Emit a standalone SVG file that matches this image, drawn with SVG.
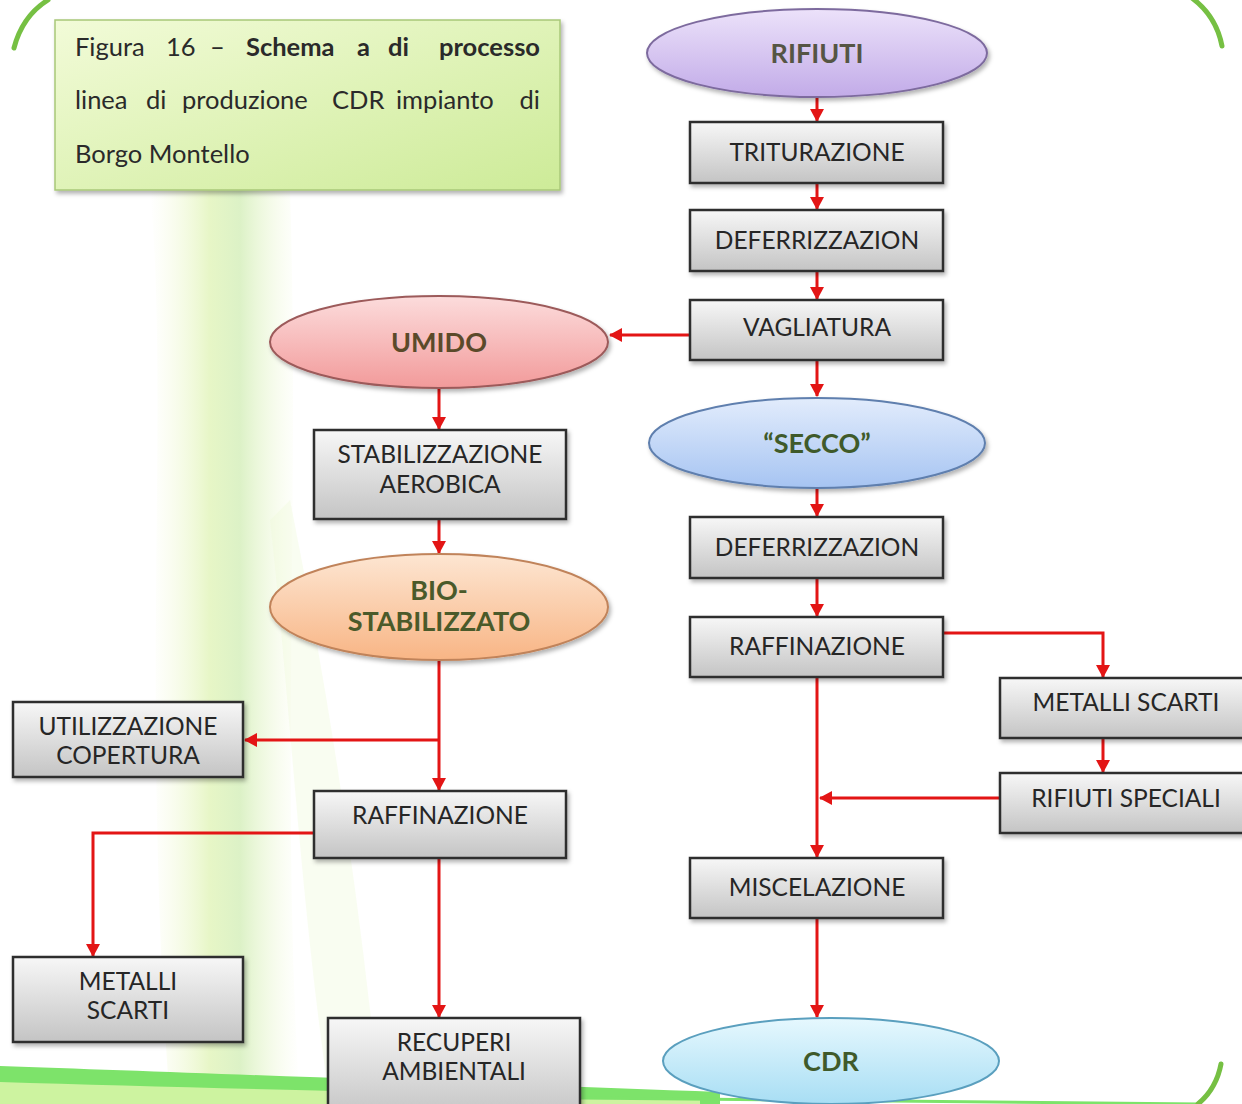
<svg xmlns="http://www.w3.org/2000/svg" width="1242" height="1104" viewBox="0 0 1242 1104">
<defs>
<style>
.box{fill:url(#gBox);stroke:#2e2e2e;stroke-width:2.5}
.lbl{font-family:Lato,"Liberation Sans",sans-serif;font-size:24.5px;fill:#262626;text-anchor:middle}
.elbl{font-family:Lato,"Liberation Sans",sans-serif;font-size:27px;font-weight:bold;text-anchor:middle}
.cap{font-family:Lato,"Liberation Sans",sans-serif;font-size:25.5px;fill:#2a2a2a}
.conn{fill:none;stroke:#e31515;stroke-width:3;marker-end:url(#ah)}
.deco{fill:none;stroke:#76c043;stroke-width:5;stroke-linecap:round}
</style>
<linearGradient id="gBox" x1="0" y1="0" x2="0" y2="1">
<stop offset="0" stop-color="#f7f7f7"/><stop offset="1" stop-color="#c4c4c4"/>
</linearGradient>
<linearGradient id="gCap" x1="0" y1="0" x2="1" y2="1">
<stop offset="0" stop-color="#f2fbd8"/><stop offset="1" stop-color="#cdeb98"/>
</linearGradient>
<linearGradient id="gRif" x1="0" y1="0" x2="0" y2="1">
<stop offset="0" stop-color="#ece2fa"/><stop offset="1" stop-color="#c2abe8"/>
</linearGradient>
<linearGradient id="gUmi" x1="0" y1="0" x2="0" y2="1">
<stop offset="0" stop-color="#fcdcdc"/><stop offset="1" stop-color="#f29a9a"/>
</linearGradient>
<linearGradient id="gSec" x1="0" y1="0" x2="0" y2="1">
<stop offset="0" stop-color="#e2ecfc"/><stop offset="1" stop-color="#a6c4f2"/>
</linearGradient>
<linearGradient id="gBio" x1="0" y1="0" x2="0" y2="1">
<stop offset="0" stop-color="#fde6d2"/><stop offset="1" stop-color="#f8b585"/>
</linearGradient>
<linearGradient id="gCdr" x1="0" y1="0" x2="0" y2="1">
<stop offset="0" stop-color="#e6f8fe"/><stop offset="1" stop-color="#a8def4"/>
</linearGradient>
<linearGradient id="gSwoosh" x1="0" y1="0" x2="1" y2="0">
<stop offset="0" stop-color="#f4fad8" stop-opacity="0"/><stop offset="0.4" stop-color="#e4f5c0"/><stop offset="0.6" stop-color="#d8f0c0"/><stop offset="1" stop-color="#f4fad8" stop-opacity="0"/>
</linearGradient>
<filter id="shd" x="-10%" y="-10%" width="130%" height="140%">
<feDropShadow dx="2" dy="3" stdDeviation="2" flood-color="#000" flood-opacity="0.3"/>
</filter>
<marker id="ah" markerWidth="14" markerHeight="14" refX="12" refY="7" orient="auto" markerUnits="userSpaceOnUse">
<path d="M0,0 L13,7 L0,14 Z" fill="#e31515"/>
</marker>
</defs>

<rect width="1242" height="1104" fill="#ffffff"/>

<g id="background">
<path d="M150,190 C170,400 140,700 170,1104 L300,1104 C280,800 300,500 290,190 Z" fill="url(#gSwoosh)" opacity="0.9"/>
<path d="M290,500 C330,700 360,900 380,1104 L330,1104 C300,900 290,700 270,520 Z" fill="#eef8d8" opacity="0.35"/>
<path d="M0,1066 C200,1073 500,1084 720,1092 L720,1104 L0,1104 Z" fill="#7de36a"/>
<path d="M0,1082 C200,1088 450,1094 700,1100 L700,1104 L0,1104 Z" fill="#cdf3a0"/>
<path d="M580,1098 C800,1100 1000,1102 1200,1104" fill="none" stroke="#7de36a" stroke-width="3"/>
<path class="deco" d="M14,48 C20,25 32,10 48,0"/>
<path class="deco" d="M1222,46 C1218,25 1208,10 1192,-2"/>
<path class="deco" d="M1221,1064 C1218,1080 1210,1094 1198,1104"/>
</g>

<g id="caption" filter="url(#shd)">
<rect x="55" y="20" width="505" height="170" fill="url(#gCap)" stroke="#a8c878" stroke-width="1.5"/>
</g>
<g id="caption-text" class="cap">
<text y="56"><tspan x="75">Figura</tspan><tspan x="166">16</tspan><tspan x="210">–</tspan><tspan x="246" font-weight="bold">Schema</tspan><tspan x="357" font-weight="bold">a</tspan><tspan x="388" font-weight="bold">di</tspan><tspan x="540" text-anchor="end" font-weight="bold">processo</tspan></text>
<text y="109"><tspan x="75">linea</tspan><tspan x="146">di</tspan><tspan x="182">produzione</tspan><tspan x="332">CDR</tspan><tspan x="396">impianto</tspan><tspan x="540" text-anchor="end">di</tspan></text>
<text y="163"><tspan x="75">Borgo Montello</tspan></text>
</g>

<g id="connectors">
<path class="conn" d="M817,97 V121"/>
<path class="conn" d="M817,183 V209"/>
<path class="conn" d="M817,271 V299"/>
<path class="conn" d="M690,335 H610"/>
<path class="conn" d="M817,360 V396"/>
<path class="conn" d="M439,388 V429"/>
<path class="conn" d="M439,519 V553"/>
<path class="conn" d="M817,487 V516"/>
<path class="conn" d="M817,578 V616"/>
<path class="conn" d="M943,633 H1103 V677"/>
<path class="conn" d="M1103,738 V772"/>
<path class="conn" d="M1000,798 H820"/>
<path class="conn" d="M817,677 V857"/>
<path class="conn" d="M817,918 V1017"/>
<path class="conn" d="M439,660 V790"/>
<path class="conn" d="M439,740 H245"/>
<path class="conn" d="M314,833 H93 V956"/>
<path class="conn" d="M439,858 V1017"/>
</g>

<g id="n-rifiuti"><ellipse cx="817" cy="53" rx="170" ry="44" fill="url(#gRif)" stroke="#7d6b9e" stroke-width="2" filter="url(#shd)"/><text class="elbl" x="817" y="63" fill="#555544">RIFIUTI</text></g>
<g id="n-triturazione"><rect class="box" x="690" y="122" width="253" height="61" filter="url(#shd)"/><text class="lbl" x="817" y="161">TRITURAZIONE</text></g>
<g id="n-deferr1"><rect class="box" x="690" y="210" width="253" height="61" filter="url(#shd)"/><text class="lbl" x="817" y="249">DEFERRIZZAZION</text></g>
<g id="n-vagliatura"><rect class="box" x="690" y="300" width="253" height="60" filter="url(#shd)"/><text class="lbl" x="817" y="336">VAGLIATURA</text></g>
<g id="n-umido"><ellipse cx="439" cy="342" rx="169" ry="46" fill="url(#gUmi)" stroke="#9c5a5a" stroke-width="2" filter="url(#shd)"/><text class="elbl" x="439" y="352" fill="#5b4a2a">UMIDO</text></g>
<g id="n-secco"><ellipse cx="817" cy="443" rx="168" ry="45" fill="url(#gSec)" stroke="#5f7fae" stroke-width="2" filter="url(#shd)"/><text class="elbl" x="817" y="453" fill="#3f5a2a">“SECCO”</text></g>
<g id="n-stabilizzazione"><rect class="box" x="314" y="430" width="252" height="89" filter="url(#shd)"/><text class="lbl" x="440" y="463">STABILIZZAZIONE</text><text class="lbl" x="440" y="493">AEROBICA</text></g>
<g id="n-bio"><ellipse cx="439" cy="607" rx="169" ry="53" fill="url(#gBio)" stroke="#c0835a" stroke-width="2" filter="url(#shd)"/><text class="elbl" x="439" y="600" fill="#4a5a2a" font-size="25">BIO-</text><text class="elbl" x="439" y="631" fill="#4a5a2a" font-size="25">STABILIZZATO</text></g>
<g id="n-deferr2"><rect class="box" x="690" y="517" width="253" height="61" filter="url(#shd)"/><text class="lbl" x="817" y="556">DEFERRIZZAZION</text></g>
<g id="n-raff-r"><rect class="box" x="690" y="617" width="253" height="60" filter="url(#shd)"/><text class="lbl" x="817" y="655">RAFFINAZIONE</text></g>
<g id="n-metalli-r"><rect class="box" x="1000" y="678" width="252" height="60" filter="url(#shd)"/><text class="lbl" x="1126" y="711">METALLI SCARTI</text></g>
<g id="n-rifiuti-speciali"><rect class="box" x="1000" y="773" width="252" height="60" filter="url(#shd)"/><text class="lbl" x="1126" y="807">RIFIUTI SPECIALI</text></g>
<g id="n-miscelazione"><rect class="box" x="690" y="858" width="253" height="60" filter="url(#shd)"/><text class="lbl" x="817" y="896">MISCELAZIONE</text></g>
<g id="n-cdr"><ellipse cx="831" cy="1061" rx="168" ry="43" fill="url(#gCdr)" stroke="#5a9fbe" stroke-width="2"/><text class="elbl" x="831" y="1071" fill="#3f5a2a">CDR</text></g>
<g id="n-utilizzazione"><rect class="box" x="13" y="702" width="230" height="75" filter="url(#shd)"/><text class="lbl" x="128" y="735">UTILIZZAZIONE</text><text class="lbl" x="128" y="764">COPERTURA</text></g>
<g id="n-raff-l"><rect class="box" x="314" y="791" width="252" height="67" filter="url(#shd)"/><text class="lbl" x="440" y="824">RAFFINAZIONE</text></g>
<g id="n-metalli-l"><rect class="box" x="13" y="957" width="230" height="85" filter="url(#shd)"/><text class="lbl" x="128" y="990">METALLI</text><text class="lbl" x="128" y="1019">SCARTI</text></g>
<g id="n-recuperi"><rect class="box" x="328" y="1018" width="252" height="100" filter="url(#shd)"/><text class="lbl" x="454" y="1051">RECUPERI</text><text class="lbl" x="454" y="1080">AMBIENTALI</text></g>
</svg>
